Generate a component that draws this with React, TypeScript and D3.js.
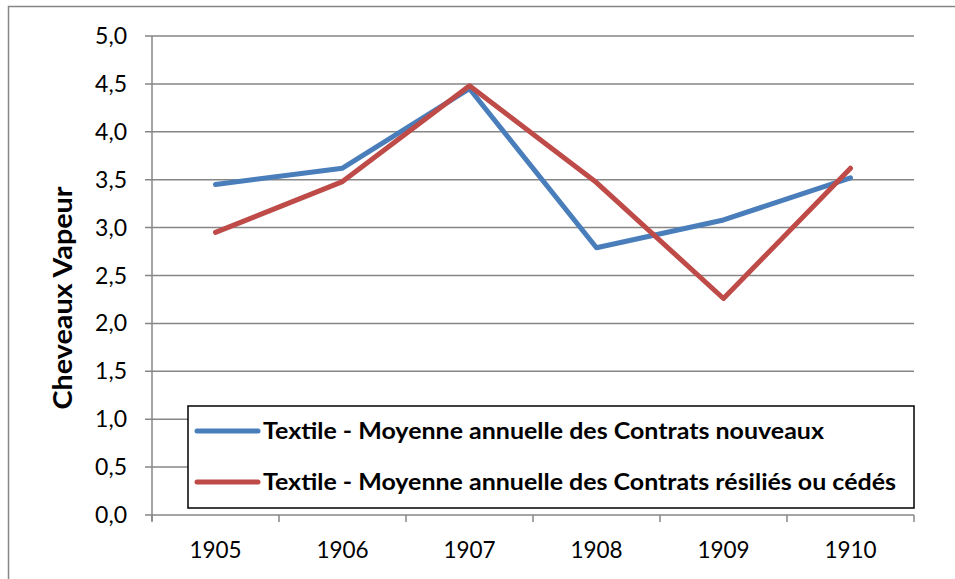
import React from "react";
import * as d3 from "d3";

const years = ["1905", "1906", "1907", "1908", "1909", "1910"];
const nouveaux = [3.45, 3.62, 4.45, 2.79, 3.08, 3.52];
const resilies = [2.95, 3.48, 4.48, 3.47, 2.26, 3.62];
const yTicks = [0, 0.5, 1, 1.5, 2, 2.5, 3, 3.5, 4, 4.5, 5];
const seriesNames = [
  "Textile - Moyenne annuelle des Contrats nouveaux",
  "Textile - Moyenne annuelle des Contrats résiliés ou cédés",
];
const colors = ["#4A7EBB", "#BE4B48"];
const yTitle = "Cheveaux Vapeur";

export default function App() {
  const W = 955, H = 579;
  const left = 152, right = 914, top = 36, bottom = 515;
  const x = d3.scaleBand().domain(years).range([left, right]);
  const y = d3.scaleLinear().domain([0, 5]).range([bottom, top]);
  const line = d3
    .line<number>()
    .x((_, i) => (x(years[i]) as number) + x.bandwidth() / 2)
    .y((d) => y(d));
  const font = "Lato, 'Open Sans', sans-serif";
  const boundaries = years.map((yr) => x(yr) as number).concat([right]);
  const legendLengths = [561, 633];
  return (
    <svg width={W} height={H} style={{ position: "absolute", left: 0, top: 0 }} fontFamily={font}>
      <rect x={0} y={0} width={W} height={H} fill="#fff" />
      <path d="M8.5,579 V6.5 H955" fill="none" stroke="#868686" strokeWidth={1.5} />
      {yTicks.map((t) => (
        <g key={t}>
          <line x1={left - 7} x2={right} y1={y(t)} y2={y(t)} stroke="#868686" strokeWidth={1.5} />
          <text x={127} y={y(t) + 8} textAnchor="end" fontSize={23} fill="#000">
            {t.toFixed(1).replace(".", ",")}
          </text>
        </g>
      ))}
      <line x1={left} x2={left} y1={top} y2={bottom + 6} stroke="#868686" strokeWidth={1.5} />
      {boundaries.map((b, i) => (
        <line key={i} x1={b} x2={b} y1={bottom} y2={bottom + 7} stroke="#868686" strokeWidth={1.5} />
      ))}
      {years.map((yr) => (
        <text key={yr} x={(x(yr) as number) + x.bandwidth() / 2} y={558} textAnchor="middle" fontSize={22.5} fill="#000">
          {yr}
        </text>
      ))}
      <text
        transform={`translate(72,298) rotate(-90)`}
        textAnchor="middle"
        fontSize={26}
        fontWeight="bold"
        fill="#000"
        textLength={223}
        lengthAdjust="spacingAndGlyphs"
      >
        {yTitle}
      </text>
      {[nouveaux, resilies].map((s, i) => (
        <path key={i} d={line(s) as string} fill="none" stroke={colors[i]} strokeWidth={5} strokeLinejoin="round" strokeLinecap="round" />
      ))}
      <rect x={188} y={406} width={726} height={102} fill="#fff" stroke="#000" strokeWidth={1.5} />
      {seriesNames.map((n, i) => {
        const cy = 431 + i * 51;
        return (
          <g key={n}>
            <line x1={197} x2={258} y1={cy} y2={cy} stroke={colors[i]} strokeWidth={5} strokeLinecap="round" />
            <text
              x={263}
              y={cy + 8}
              fontSize={23}
              fontWeight="bold"
              fill="#000"
              textLength={legendLengths[i]}
              lengthAdjust="spacingAndGlyphs"
            >
              {n}
            </text>
          </g>
        );
      })}
    </svg>
  );
}
